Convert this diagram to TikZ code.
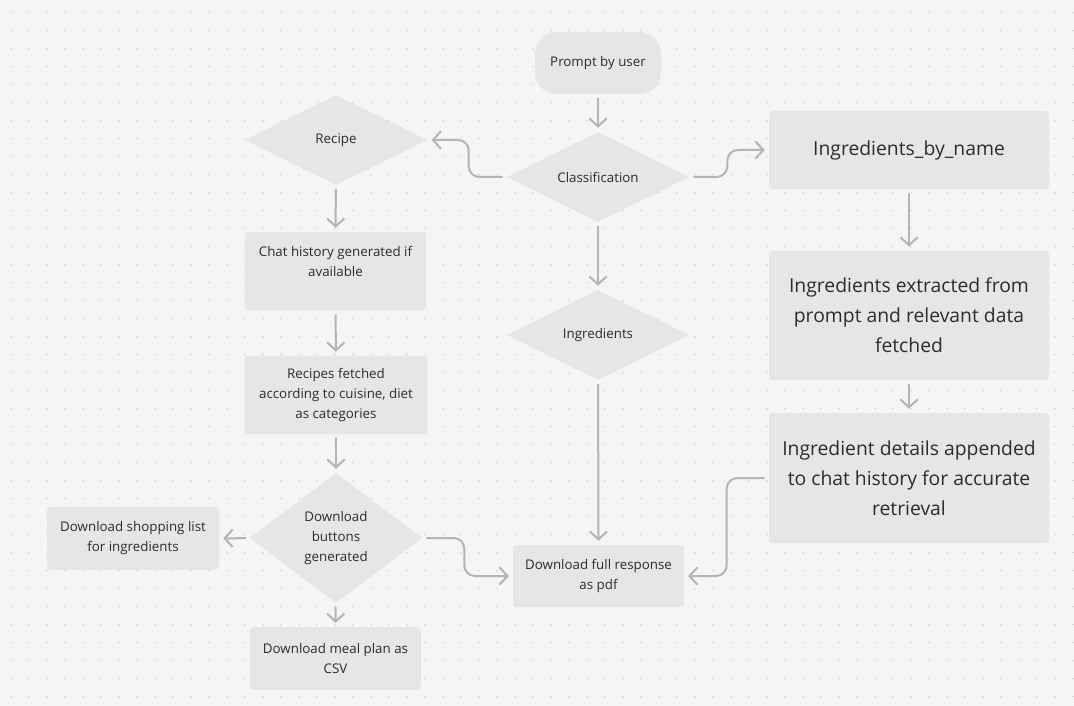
\documentclass[tikz,border=0pt]{standalone}
\usepackage{fontspec}
\setmainfont{Open Sans}
\usepackage{tikz}
\usetikzlibrary{arrows.meta,shapes}
\definecolor{fgback}{RGB}{245,245,245}
\definecolor{fgdot}{RGB}{196,196,196}
\definecolor{fgbox}{RGB}{230,230,230}
\definecolor{fgline}{RGB}{180,180,180}
\definecolor{fgtext}{RGB}{44,44,44}
\tikzstyle{box} = [rectangle, rounded corners=2.5pt, fill=fgbox, text=fgtext, align=center, inner sep=0pt, font=\fontsize{10}{15}\selectfont]
\tikzstyle{bigbox} = [box, font=\fontsize{14.5}{22.5}\selectfont]
\tikzstyle{decision} = [diamond, aspect=2, fill=fgbox, text=fgtext, align=center, inner sep=0pt, font=\fontsize{10}{15}\selectfont]
\tikzstyle{arrow} = [line width=1.5pt, color=fgline, -{Straight Barb[length=6pt,width=13pt]}, rounded corners=8pt, shorten >=3pt, shorten <=3pt]

\begin{document}
\begin{tikzpicture}[x=0.75pt, y=-0.75pt]
% Background and dot grid
\fill[fgback] (0,0) rectangle (1074,706);
\useasboundingbox (0,0) rectangle (1074,706);
\foreach \i in {0,...,59}
  \foreach \j in {0,...,38}
    \fill[fgdot] (11+18*\i, 12.7+18*\j) circle (0.55pt);

% Middle column
\node[box, rounded corners=16pt, minimum width=94.5pt, minimum height=46.5pt] (prompt) at (598,63) {Prompt by user};
\node[decision, minimum width=136.5pt, minimum height=67.5pt] (cls) at (598,177) {Classification};
\node[decision, minimum width=136.5pt, minimum height=67.5pt] (ingr) at (598,335) {Ingredients};
\node[box, minimum width=128pt, minimum height=46.5pt] (full) at (598.5,576) {Download full response\\as pdf};

% Left column
\node[decision, minimum width=137pt, minimum height=67.5pt] (recipe) at (336,140) {Recipe};
\node[box, minimum width=136pt, minimum height=58.5pt] (chat) at (335.5,271) {Chat history generated if\\available\\\mbox{}};
\node[box, minimum width=137pt, minimum height=58.5pt] (fetch) at (336,395) {Recipes fetched\\according to cuisine, diet\\as categories};
\node[decision, aspect=1.3, minimum width=129pt, minimum height=97.5pt] (dlb) at (336,538) {Download\\buttons\\generated};
\node[box, minimum width=129pt, minimum height=47pt] (shop) at (133,538.5) {Download shopping list\\for ingredients};
\node[box, minimum width=128pt, minimum height=47pt] (meal) at (335.5,658.5) {Download meal plan as\\CSV};

% Right column
\node[bigbox, minimum width=210pt, minimum height=58.5pt] (byname) at (909,150) {Ingredients\_by\_name};
\node[bigbox, minimum width=210pt, minimum height=97pt] (extract) at (909,315.5) {Ingredients extracted from\\prompt and relevant data\\fetched};
\node[bigbox, minimum width=210pt, minimum height=97.5pt] (detail) at (909,478) {Ingredient details appended\\to chat history for accurate\\retrieval};

% Arrows
\draw[arrow] (prompt) -- (cls);
\draw[arrow] (cls.west) -- ++(-38,0) |- (recipe.east);
\draw[arrow] (cls.east) -- ++(38,0) |- (byname.west);
\draw[arrow] (cls) -- (ingr);
\draw[arrow] (ingr) -- (full);
\draw[arrow] (recipe) -- (chat);
\draw[arrow] (chat) -- (fetch);
\draw[arrow] (fetch) -- (dlb);
\draw[arrow] (dlb) -- (shop);
\draw[arrow] (dlb) -- (meal);
\draw[arrow] (dlb.east) -- ++(42,0) |- (full.west);
\draw[arrow] (byname) -- (extract);
\draw[arrow] (extract) -- (detail);
\draw[arrow] (detail.west) -- ++(-42,0) |- (full.east);
\end{tikzpicture}
\end{document}
